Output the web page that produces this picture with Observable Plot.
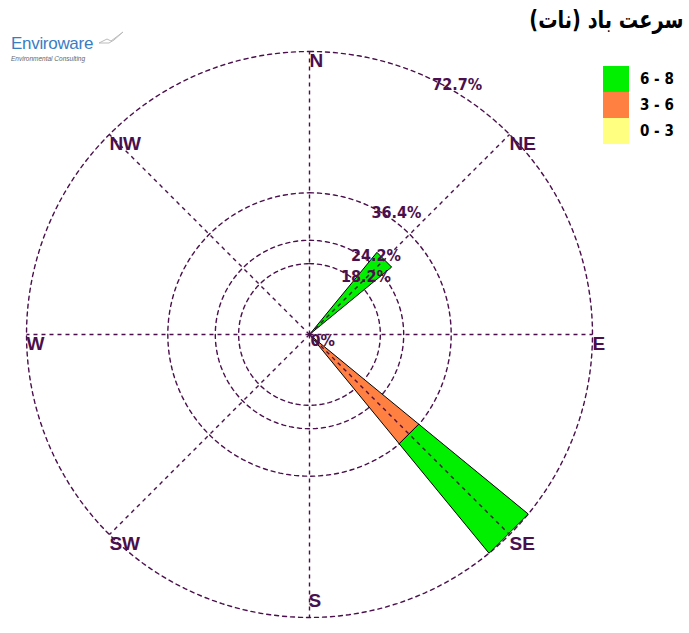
<!DOCTYPE html>
<html>
<head>
<meta charset="utf-8">
<script src="https://cdn.jsdelivr.net/npm/d3@7"></script>
<script src="https://cdn.jsdelivr.net/npm/@observablehq/plot@0.6"></script>
<style>
  html, body { margin: 0; padding: 0; background: #fff; }
  #wrap { position: relative; width: 689px; height: 633px; overflow: hidden; }
  #chart { position: absolute; left: 0; top: 0; }
  #title { position: absolute; right: 6px; top: 6px; font-family: "DejaVu Sans", sans-serif; font-weight: bold; font-size: 23px; color: #000; direction: rtl; transform: scale(0.84, 1.05); transform-origin: right top; }
  #logo { position: absolute; left: 11px; top: 34px; font-family: "Liberation Sans", Arial, sans-serif; }
  #logo .name { font-size: 17px; color: #3a7cc4; letter-spacing: -0.3px; }
  #logo .sub { font-size: 6.5px; font-style: italic; color: #666; margin-top: 1px; }
  #logo svg { position: absolute; left: 86px; top: -4px; }
  #legend { position: absolute; left: 603px; top: 66px; font-family: "DejaVu Sans Condensed", "DejaVu Sans", sans-serif; font-weight: bold; font-size: 15px; }
  #legend .row { display: flex; align-items: center; height: 26px; }
  #legend .sw { width: 26px; height: 26px; }
  #legend .lb { margin-left: 11px; }
</style>
</head>
<body>
<div id="wrap">
  <div id="chart"></div>
  <div id="title">سرعت باد (نات)</div>
  <div id="logo"><div class="name">Enviroware</div><div class="sub">Environmental Consulting</div>
    <svg width="28" height="16"><path d="M2,13 L10,9 L14,11 L26,2 L17,10 L12,13 Z" fill="none" stroke="#bbb" stroke-width="1"/></svg>
  </div>
  <div id="legend"></div>
</div>
<script>
// ---- data ----
const directions = ["N", "NE", "E", "SE", "S", "SW", "W", "NW"];
const directionAngles = [0, 45, 90, 135, 180, 225, 270, 315];
const speedBins = ["0 - 3", "3 - 6", "6 - 8"];
const binColors = ["#ffff80", "#ff8040", "#00f000"];
const pct_0_3 = [0, 0, 0, 0, 0, 0, 0, 0];
const pct_3_6 = [0, 0, 0, 36.4, 0, 0, 0, 0];
const pct_6_8 = [0, 27.3, 0, 36.3, 0, 0, 0, 0];
const ringValues = [18.2, 24.2, 36.4, 72.7];
const ringLabels = ["18.2%", "24.2%", "36.4%", "72.7%"];
const centerLabel = "0%";
const maxR = 72.7;
const petalHalfWidth = 5.625;
const labelAngle = 25.5;

// ---- geometry helpers ----
const rad = a => a * Math.PI / 180;
const px = (r, a) => r * Math.sin(rad(a));
const py = (r, a) => r * Math.cos(rad(a));

// rings
const ringPts = [];
ringValues.forEach((r, i) => {
  for (let a = 0; a < 360; a += 2) ringPts.push({ring: i, x: px(r, a), y: py(r, a)});
});
// spokes
const spokes = directionAngles.map(a => ({x1: 0, y1: 0, x2: px(maxR, a), y2: py(maxR, a)}));
// petals
const binArrays = [pct_0_3, pct_3_6, pct_6_8];
const petalPts = [];
directions.forEach((d, i) => {
  let cum = 0;
  const a = directionAngles[i];
  binArrays.forEach((arr, b) => {
    const v = arr[i];
    if (v <= 0) return;
    const r0 = cum, r1 = cum + v;
    cum = r1;
    const id = d + "-" + b;
    const col = binColors[b];
    [[r0, a - petalHalfWidth], [r1, a - petalHalfWidth], [r1, a + petalHalfWidth], [r0, a + petalHalfWidth]]
      .forEach(([r, t]) => petalPts.push({id, col, x: px(r, t), y: py(r, t)}));
  });
});
// labels
const ringText = ringValues.map((r, i) => ({x: px(r, labelAngle), y: py(r, labelAngle), t: ringLabels[i]}));
ringText.push({x: 0, y: 0, t: centerLabel});
const dirText = directions.map((d, i) => ({x: px(maxR, directionAngles[i]), y: py(maxR, directionAngles[i]), t: d}));

const purple = "#4a0f4c";
const pctFont = "DejaVu Sans Condensed, DejaVu Sans, sans-serif";
const dirFont = "Liberation Sans, Arial, sans-serif";

const plot = Plot.plot({
  width: 689,
  height: 633,
  marginLeft: 26,
  marginRight: 97,
  marginTop: 51,
  marginBottom: 16,
  x: {domain: [-maxR, maxR], axis: null},
  y: {domain: [-maxR, maxR], axis: null},
  style: {background: "transparent"},
  marks: [
    Plot.line(ringPts, {x: "x", y: "y", z: "ring", curve: "linear-closed", stroke: purple, strokeWidth: 1.4, strokeDasharray: "4,4"}),
    Plot.line(petalPts, {x: "x", y: "y", z: "id", fill: "col", curve: "linear-closed", stroke: "#000", strokeWidth: 1}),
    Plot.link(spokes, {x1: "x1", y1: "y1", x2: "x2", y2: "y2", stroke: purple, strokeWidth: 1.4, strokeDasharray: "4,4"}),
    Plot.text(ringText, {x: "x", y: "y", text: "t", textAnchor: "start", lineAnchor: "top", dx: 1, dy: 0, fill: purple, fontSize: 16, fontWeight: "bold", fontFamily: pctFont}),
    Plot.text(dirText.filter(d => d.t !== "S"), {x: "x", y: "y", text: "t", textAnchor: "start", lineAnchor: "top", dx: 0, dy: 2, fill: purple, fontSize: 19, fontWeight: "bold", fontFamily: dirFont}),
    Plot.text(dirText.filter(d => d.t === "S"), {x: "x", y: "y", text: "t", textAnchor: "start", lineAnchor: "top", dx: -1, dy: -24, fill: purple, fontSize: 19, fontWeight: "bold", fontFamily: dirFont})
  ]
});
document.getElementById("chart").appendChild(plot);

// legend (top to bottom: highest bin first)
const legend = document.getElementById("legend");
for (let b = speedBins.length - 1; b >= 0; b--) {
  const row = document.createElement("div");
  row.className = "row";
  row.innerHTML = `<div class="sw" style="background:${binColors[b]}"></div><div class="lb">${speedBins[b]}</div>`;
  legend.appendChild(row);
}
</script>
</body>
</html>
